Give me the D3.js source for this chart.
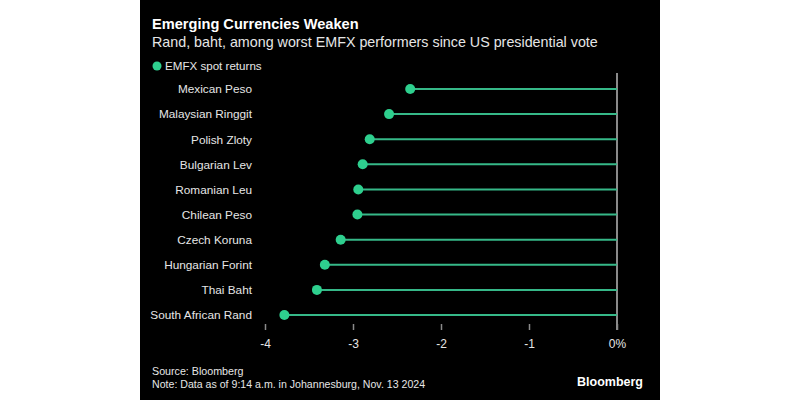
<!DOCTYPE html>
<html><head><meta charset="utf-8">
<script src="https://cdn.jsdelivr.net/npm/d3@7"></script>
<style>
html,body{margin:0;padding:0;background:#fff;}
svg{display:block;}
text{font-family:"Liberation Sans", Arial, sans-serif;}
</style></head>
<body>
<svg id="chart" width="800" height="400"></svg>
<script>
const categories = ["Mexican Peso","Malaysian Ringgit","Polish Zloty","Bulgarian Lev","Romanian Leu","Chilean Peso","Czech Koruna","Hungarian Forint","Thai Baht","South African Rand"];
const returns = [-2.35,-2.59,-2.81,-2.89,-2.94,-2.95,-3.14,-3.32,-3.41,-3.78];
const tickValues = [-4,-3,-2,-1,0];
const tickLabels = ["-4","-3","-2","-1","0%"];
const title = "Emerging Currencies Weaken";
const subtitle = "Rand, baht, among worst EMFX performers since US presidential vote";
const legendLabel = "EMFX spot returns";
const source = "Source: Bloomberg";
const note = "Note: Data as of 9:14 a.m. in Johannesburg, Nov. 13 2024";

const svg = d3.select("#chart");
svg.append("rect").attr("x",140).attr("y",0).attr("width",520).attr("height",400).attr("fill","#000");

const x = d3.scaleLinear().domain([-4,0]).range([265,617]);
const y = d3.scalePoint().domain(categories).range([89,315]);

svg.append("text").attr("x",152).attr("y",29).attr("fill","#fff").attr("font-size",14.6).attr("font-weight","bold").text(title);
svg.append("text").attr("x",152).attr("y",47).attr("fill","#e6e6e6").attr("font-size",14.3).text(subtitle);

svg.append("circle").attr("cx",157).attr("cy",66).attr("r",4.5).attr("fill","#2ecf8e");
svg.append("text").attr("x",165).attr("y",70).attr("fill","#e6e6e6").attr("font-size",11.6).text(legendLabel);

// zero line
svg.append("line").attr("x1",x(0)).attr("x2",x(0)).attr("y1",73).attr("y2",330).attr("stroke","#8a8a8a").attr("stroke-width",2);

// x axis
const xAxis = d3.axisBottom(x).tickValues(tickValues).tickFormat((d,i)=>tickLabels[i]).tickSize(6).tickPadding(9);
const gx = svg.append("g").attr("transform","translate(0,324)").call(xAxis);
gx.select(".domain").remove();
gx.selectAll(".tick line").attr("stroke","#8a8a8a").attr("stroke-width",1.5);
gx.selectAll(".tick text").attr("fill","#e6e6e6").attr("font-size",12).attr("font-family","Liberation Sans, Arial, sans-serif");

// y labels
const gy = svg.append("g").attr("transform","translate(262,0)").call(d3.axisLeft(y).tickSize(0).tickPadding(10));
gy.select(".domain").remove();
gy.selectAll(".tick text").attr("fill","#e6e6e6").attr("font-size",11.8).attr("font-family","Liberation Sans, Arial, sans-serif");

const rows = categories.map((c,i)=>({c, v: returns[i]}));
svg.append("g").selectAll("line").data(rows).join("line")
  .attr("x1",d=>x(d.v)).attr("x2",x(0)).attr("y1",d=>y(d.c)).attr("y2",d=>y(d.c))
  .attr("stroke","#36b888").attr("stroke-width",2);
svg.append("g").selectAll("circle").data(rows).join("circle")
  .attr("cx",d=>x(d.v)).attr("cy",d=>y(d.c)).attr("r",5).attr("fill","#2ecf8e");

svg.append("text").attr("x",152).attr("y",375).attr("fill","#e6e6e6").attr("font-size",10.7).text(source);
svg.append("text").attr("x",152).attr("y",388).attr("fill","#e6e6e6").attr("font-size",10.6).text(note);
svg.append("text").attr("x",643).attr("y",386).attr("text-anchor","end").attr("fill","#fff").attr("font-size",12.5).attr("font-weight","bold").text("Bloomberg");
</script>
</body></html>
